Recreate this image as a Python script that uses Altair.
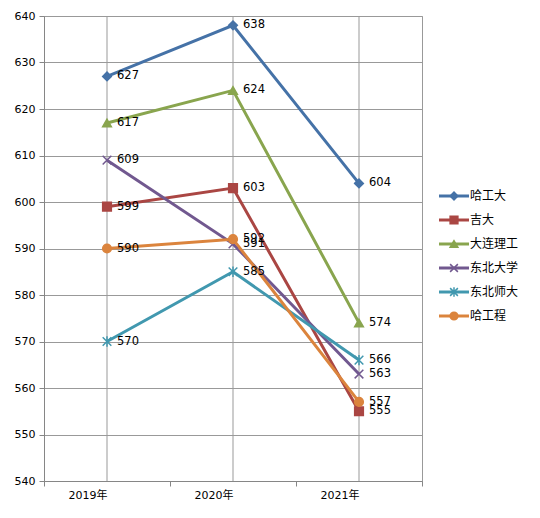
import pandas as pd
import altair as alt

YEARS  = ["2019年", "2020年", "2021年"]
SCHOOLS = ["哈工大", "吉大", "大连理工", "东北大学", "东北师大", "哈工程"]

HGD   = [627, 638, 604]
JD    = [599, 603, 555]
DLLG  = [617, 624, 574]
DBDX  = [609, 591, 563]
DBSD  = [570, 585, 566]
HGC   = [590, 592, 557]

COLORS = ["#4572A7", "#AA4643", "#89A54E", "#71588F", "#4198AF", "#DB843D"]
SHAPES = [
    "diamond",
    "square",
    "triangle-up",
    "M-1,-1L1,1M1,-1L-1,1",
    "M-1,-1L1,1M1,-1L-1,1M0,-1.2L0,1.2",
    "circle",
]

FONT = "DejaVu Sans, Noto Sans CJK SC"
GRID = "#999999"
AXIS = "#868686"

rows = []
for name, vals in zip(SCHOOLS, [HGD, JD, DLLG, DBDX, DBSD, HGC]):
    for yr, v in zip(YEARS, vals):
        rows.append({"school": name, "year": yr, "score": v})
df = pd.DataFrame(rows)

color_scale = alt.Scale(domain=SCHOOLS, range=COLORS)
shape_scale = alt.Scale(domain=SCHOOLS, range=SHAPES)

x_enc = alt.X("year:N", sort=YEARS, title=None,
              scale=alt.Scale(paddingInner=0, paddingOuter=0),
              axis=alt.Axis(tickBand="extent", grid=False, labelAngle=0,
                            tickSize=5, labelPadding=9, domainColor=AXIS,
                            tickColor=AXIS, labelFontSize=11))
y_enc = alt.Y("score:Q", title=None,
              scale=alt.Scale(domain=[540, 640], nice=False, zero=False),
              axis=alt.Axis(values=list(range(540, 641, 10)), grid=True,
                            gridColor=GRID, tickSize=5, labelPadding=4,
                            domainColor=AXIS, tickColor=AXIS,
                            labelFontSize=11))

base = alt.Chart(df)

# vertical grid lines at the category centres
vgrid = alt.Chart(pd.DataFrame({"year": YEARS})).mark_rule(
    color=GRID, strokeWidth=1
).encode(x=alt.X("year:N", sort=YEARS))

lines = base.mark_line(strokeWidth=3).encode(
    x=x_enc, y=y_enc,
    color=alt.Color("school:N", scale=color_scale, legend=None),
)

points = base.mark_point(filled=True, size=75, strokeWidth=1.5, opacity=1).encode(
    x=alt.X("year:N", sort=YEARS), y="score:Q",
    color=alt.Color("school:N", scale=color_scale, legend=None),
    stroke=alt.Stroke("school:N", scale=color_scale, legend=None),
    shape=alt.Shape("school:N", scale=shape_scale, legend=None),
)

labels = base.mark_text(align="left", baseline="middle", dx=10,
                        fontSize=11.5, color="black").encode(
    x=alt.X("year:N", sort=YEARS), y="score:Q",
    text="score:Q",
)

main = alt.layer(vgrid, lines, points, labels).properties(width=378, height=465)

# legend panel
leg_df = pd.DataFrame({"school": SCHOOLS})
leg_y = alt.Y("school:N", sort=SCHOOLS, axis=None,
              scale=alt.Scale(type="point", range=[180, 300], padding=0))
leg_base = alt.Chart(leg_df)

leg_line = leg_base.mark_rule(strokeWidth=3).encode(
    x=alt.value(0), x2=alt.value(30), y=leg_y,
    color=alt.Color("school:N", scale=color_scale, legend=None),
)
leg_pt = leg_base.mark_point(filled=True, size=60, strokeWidth=1.5, opacity=1).encode(
    x=alt.value(15), y=leg_y,
    color=alt.Color("school:N", scale=color_scale, legend=None),
    stroke=alt.Stroke("school:N", scale=color_scale, legend=None),
    shape=alt.Shape("school:N", scale=shape_scale, legend=None),
)
leg_txt = leg_base.mark_text(align="left", baseline="middle", dx=0,
                             fontSize=12, color="black").encode(
    x=alt.value(31), y=leg_y, text="school:N",
)
legend = alt.layer(leg_line, leg_pt, leg_txt).properties(
    width=80, height=465, view=alt.ViewBackground(stroke="transparent")
)

chart = (
    alt.hconcat(main, legend, spacing=14)
    .properties(padding={"left": 5, "top": 1, "right": 5, "bottom": 5})
    .configure_view(stroke=GRID)
    .configure_axis(labelFont=FONT, labelColor="black")
    .configure_text(font=FONT)
)

chart.save("out.html", embed_options={"renderer": "svg", "actions": False})
